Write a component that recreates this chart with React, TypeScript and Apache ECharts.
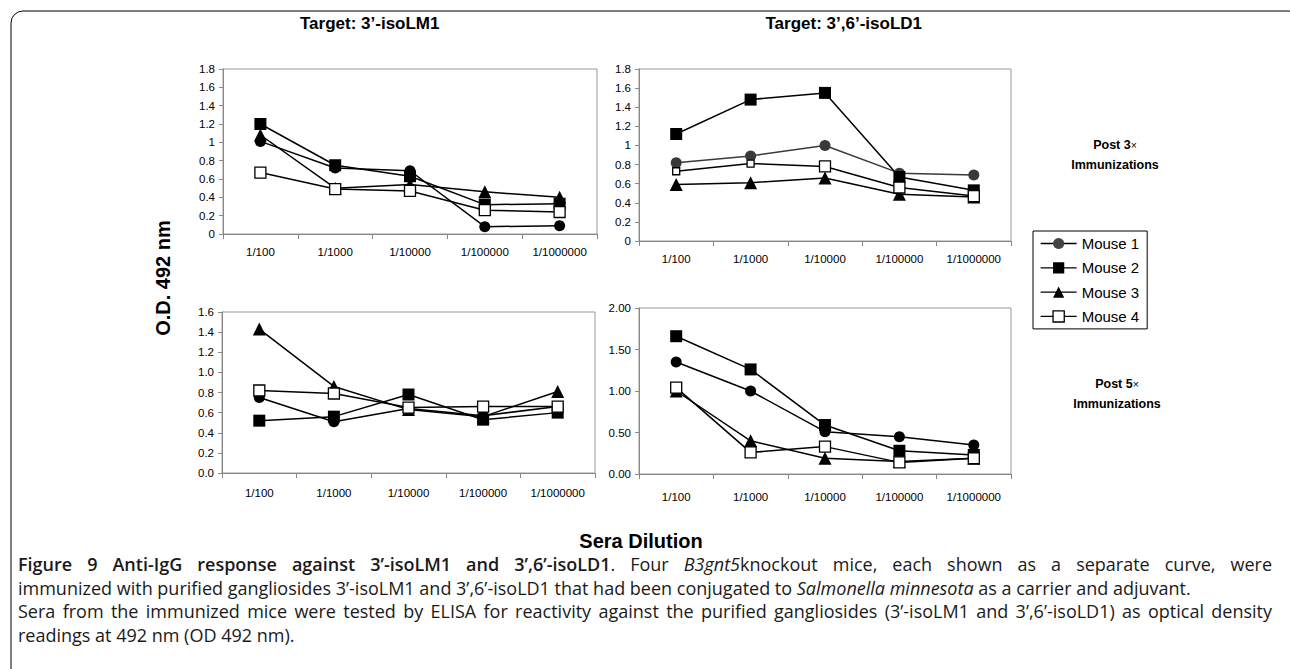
import React, { useEffect, useRef } from 'react';
import * as echarts from 'echarts';

const categories = ['1/100', '1/1000', '1/10000', '1/100000', '1/1000000'];
const mouseNames = ['Mouse 1', 'Mouse 2', 'Mouse 3', 'Mouse 4'];

// Target 3'-isoLM1, post 3x immunizations
const lm1P3Mouse1 = [1.01, 0.72, 0.69, 0.08, 0.09];
const lm1P3Mouse2 = [1.2, 0.75, 0.63, 0.32, 0.33];
const lm1P3Mouse3 = [1.08, 0.5, 0.54, 0.46, 0.4];
const lm1P3Mouse4 = [0.67, 0.49, 0.47, 0.26, 0.24];
// Target 3',6'-isoLD1, post 3x immunizations
const ld1P3Mouse1 = [0.82, 0.89, 1.0, 0.71, 0.69];
const ld1P3Mouse2 = [1.12, 1.48, 1.55, 0.67, 0.53];
const ld1P3Mouse3 = [0.59, 0.61, 0.66, 0.49, 0.46];
const ld1P3Mouse4 = [0.73, 0.81, 0.78, 0.56, 0.47];
// Target 3'-isoLM1, post 5x immunizations
const lm1P5Mouse1 = [0.75, 0.51, 0.64, 0.57, 0.66];
const lm1P5Mouse2 = [0.52, 0.56, 0.78, 0.53, 0.6];
const lm1P5Mouse3 = [1.43, 0.86, 0.63, 0.56, 0.81];
const lm1P5Mouse4 = [0.82, 0.79, 0.65, 0.66, 0.66];
// Target 3',6'-isoLD1, post 5x immunizations
const ld1P5Mouse1 = [1.35, 1.0, 0.51, 0.45, 0.35];
const ld1P5Mouse2 = [1.66, 1.26, 0.59, 0.28, 0.23];
const ld1P5Mouse3 = [1.0, 0.4, 0.19, 0.15, 0.19];
const ld1P5Mouse4 = [1.04, 0.26, 0.33, 0.14, 0.19];

const yMax = [1.8, 1.8, 1.6, 2.0];
const yInterval = [0.2, 0.2, 0.2, 0.5];
const yDecimals = [-1, -1, 1, 2];

const panels = [
  [lm1P3Mouse1, lm1P3Mouse2, lm1P3Mouse3, lm1P3Mouse4],
  [ld1P3Mouse1, ld1P3Mouse2, ld1P3Mouse3, ld1P3Mouse4],
  [lm1P5Mouse1, lm1P5Mouse2, lm1P5Mouse3, lm1P5Mouse4],
  [ld1P5Mouse1, ld1P5Mouse2, ld1P5Mouse3, ld1P5Mouse4],
];

const FONT = 'Liberation Sans, Arial, sans-serif';

const grids = [
  { left: 223, top: 69, width: 374, height: 165 },
  { left: 639, top: 69, width: 372, height: 172 },
  { left: 222, top: 312, width: 373, height: 161 },
  { left: 639, top: 308, width: 372, height: 166 },
];
const xLabelMargin = [12, 12, 14, 17];

function symbolFor(m: number) {
  return ['circle', 'rect', 'triangle', 'rect'][m];
}
function sizeFor(m: number) {
  return [11, 12, 13, 11][m];
}

function buildOption() {
  const series: any[] = [];
  panels.forEach((panel, p) => {
    panel.forEach((data, m) => {
      const dark = p === 1 && m === 0 ? '#3a3a3a' : '#000';
      const open = m === 3;
      let size: any = sizeFor(m);
      if (p === 1 && m === 3) {
        size = (_v: any, params: any) => (params.dataIndex < 2 ? 7 : 11);
      }
      series.push({
        type: 'line',
        name: mouseNames[m],
        xAxisIndex: p,
        yAxisIndex: p,
        data,
        symbol: symbolFor(m),
        symbolSize: size,
        showSymbol: true,
        showAllSymbol: true,
        lineStyle: { color: dark, width: 1.5 },
        itemStyle: open
          ? { color: '#fff', borderColor: '#000', borderWidth: 1.3 }
          : { color: dark, borderWidth: 0 },
        emphasis: { disabled: true },
        z: 2 + m,
      });
    });
  });

  const axisColor = '#888';

  const xAxis = grids.map((_, i) => ({
    type: 'category',
    gridIndex: i,
    data: categories,
    boundaryGap: true,
    axisLine: { show: true, lineStyle: { color: axisColor, width: 1 } },
    axisTick: { show: true, length: 5, alignWithLabel: false, lineStyle: { color: axisColor } },
    axisLabel: { interval: 0, fontSize: 11.5, color: '#000', margin: xLabelMargin[i], fontFamily: FONT },
    splitLine: { show: false },
  }));

  const yAxis = grids.map((_, i) => ({
    type: 'value',
    gridIndex: i,
    min: 0,
    max: yMax[i],
    interval: yInterval[i],
    axisLine: { show: true, lineStyle: { color: axisColor, width: 1 } },
    axisTick: { show: true, length: 4, lineStyle: { color: axisColor } },
    splitLine: { show: false },
    axisLabel: {
      fontSize: 11.5,
      color: '#000',
      margin: 8,
      fontFamily: FONT,
      formatter: (v: number) =>
        yDecimals[i] < 0 ? String(Math.round(v * 10) / 10) : v.toFixed(yDecimals[i]),
    },
  }));

  const grid = grids.map((g) => ({
    ...g,
    show: true,
    borderColor: '#999',
    borderWidth: 1,
    backgroundColor: 'transparent',
    containLabel: false,
    outerBoundsMode: 'none',
  }));

  const boldText = (text: string, x: number, y: number, size: number, align = 'center', rotation = 0) => ({
    type: 'text',
    x,
    y,
    rotation,
    style: {
      text,
      fontSize: size,
      fontWeight: 'bold',
      fontFamily: FONT,
      fill: '#000',
      align,
      verticalAlign: 'middle',
    },
    silent: true,
  });

  const postText = (n: string, x: number, y: number) => ({
    type: 'text',
    x,
    y,
    style: {
      text: `{a|Post ${n}}{b|×}\n{a|Immunizations}`,
      align: 'center',
      verticalAlign: 'middle',
      rich: {
        a: { fontSize: 12.5, fontWeight: 'bold', fontFamily: FONT, fill: '#000', lineHeight: 20, align: 'center' },
        b: { fontSize: 10.5, fontWeight: 'normal', fontFamily: FONT, fill: '#000', lineHeight: 20 },
      },
    },
    silent: true,
  });

  const graphic = [
    {
      type: 'rect',
      shape: { x: 11, y: 11, width: 1290, height: 690, r: 12 },
      style: { fill: 'none', stroke: '#000', lineWidth: 1 },
      silent: true,
    },
    boldText('Target: 3’-isoLM1', 300, 23, 17, 'left'),
    boldText('Target: 3’,6’-isoLD1', 922, 23, 17, 'right'),
    boldText('O.D. 492 nm', 163, 278, 20, 'center', Math.PI / 2),
    boldText('Sera Dilution', 641, 541, 20, 'center'),
    postText('3', 1115, 155),
    postText('5', 1117, 394),
  ];

  return {
    animation: false,
    backgroundColor: '#fff',
    grid,
    xAxis,
    yAxis,
    series,
    legend: {
      show: true,
      orient: 'vertical',
      left: 1033,
      top: 231,
      padding: [5, 8, 5, 7],
      itemWidth: 36,
      itemHeight: 14,
      itemGap: 9.3,
      borderColor: '#000',
      borderWidth: 1,
      backgroundColor: '#fff',
      selectedMode: false,
      textStyle: { fontSize: 15, color: '#000', fontFamily: FONT, padding: [0, 0, 0, 0] },
      data: [
        { name: 'Mouse 1', itemStyle: { color: '#444', borderWidth: 0 }, lineStyle: { color: '#000', width: 1.3 } },
        { name: 'Mouse 2', itemStyle: { color: '#000', borderWidth: 0 }, lineStyle: { color: '#000', width: 1.3 } },
        { name: 'Mouse 3', itemStyle: { color: '#000', borderWidth: 0 }, lineStyle: { color: '#000', width: 1.3 } },
        { name: 'Mouse 4', itemStyle: { color: '#fff', borderColor: '#000', borderWidth: 1.3 }, lineStyle: { color: '#000', width: 1.3 } },
      ],
    },
    graphic,
  };
}

const captionLine: React.CSSProperties = {
  height: 23.5,
  lineHeight: '23.5px',
  whiteSpace: 'nowrap',
  overflow: 'visible',
};

export default function App() {
  const ref = useRef<HTMLDivElement>(null);
  useEffect(() => {
    const chart = echarts.init(ref.current as HTMLDivElement, null, { renderer: 'svg' });
    chart.setOption(buildOption() as any);
    return () => chart.dispose();
  }, []);

  return (
    <div style={{ position: 'absolute', left: 0, top: 0, width: 1290, height: 669, background: '#fff', overflow: 'hidden' }}>
      <div ref={ref} style={{ position: 'absolute', left: 0, top: 0, width: 1290, height: 669 }} />
      <div
        style={{
          position: 'absolute',
          left: 18,
          top: 553,
          width: 1254,
          fontFamily: '"Open Sans", "Noto Sans", sans-serif',
          fontSize: 18,
          color: '#1a1a1a',
        }}
      >
        <div style={{ ...captionLine, whiteSpace: 'normal', textAlign: 'justify', textAlignLast: 'justify' }}>
          <b style={{ fontWeight: 600 }}>Figure 9 Anti-IgG response against 3’-isoLM1 and 3’,6’-isoLD1</b>. Four <i>B3gnt5</i>knockout mice, each shown as a separate curve, were
        </div>
        <div style={captionLine}>
          immunized with purified gangliosides 3’-isoLM1 and 3’,6’-isoLD1 that had been conjugated to <i>Salmonella minnesota</i> as a carrier and adjuvant.
        </div>
        <div style={{ ...captionLine, whiteSpace: 'normal', textAlign: 'justify', textAlignLast: 'justify' }}>
          Sera from the immunized mice were tested by ELISA for reactivity against the purified gangliosides (3’-isoLM1 and 3’,6’-isoLD1) as optical density
        </div>
        <div style={captionLine}>readings at 492 nm (OD 492 nm).</div>
      </div>
    </div>
  );
}
